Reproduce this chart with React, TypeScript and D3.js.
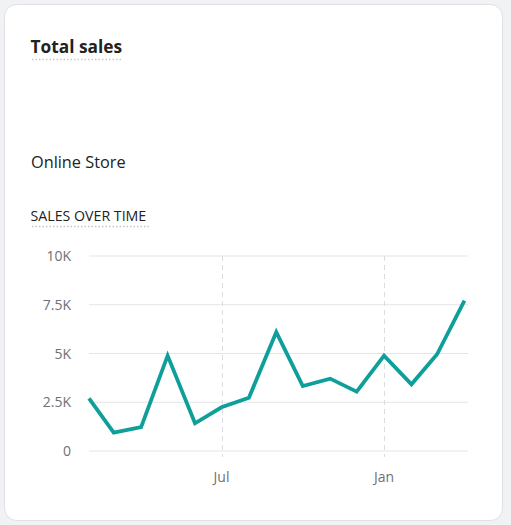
import * as d3 from "d3";
import React, { useEffect, useRef } from 'react'

// monthly sales, Feb 2023 .. Apr 2024
const months = [
  "2023-02-01", "2023-03-01", "2023-04-01", "2023-05-01", "2023-06-01",
  "2023-07-01", "2023-08-01", "2023-09-01", "2023-10-01", "2023-11-01",
  "2023-12-01", "2024-01-01", "2024-02-01", "2024-03-01", "2024-04-01"
]
const sales = [2700, 940, 1220, 4890, 1420, 2240, 2730, 6100, 3330, 3710, 3040, 4890, 3420, 4960, 7710]
const yTicks = [0, 2500, 5000, 7500, 10000]
const yTickLabels = ["0", "2.5K", "5K", "7.5K", "10K"]
const xTickDates = ["2023-07-01", "2024-01-01"]
const xTickLabels = ["Jul", "Jan"]

const W = 511
const H = 525
const FONT = "'Open Sans', 'Noto Sans', sans-serif"

const draw = (el: SVGSVGElement) => {
  const svg = d3.select(el)
  svg.selectAll('*').remove()

  const parse = d3.utcParse("%Y-%m-%d")
  const data = months.map((m, i) => [parse(m) as Date, sales[i]] as [Date, number])

  // page + card
  svg.append('rect').attr('width', W).attr('height', H).attr('fill', '#f1f2f4')
  svg.append('rect')
    .attr('x', 4.5).attr('y', 4.5).attr('width', 498).attr('height', 516)
    .attr('rx', 12).attr('fill', '#ffffff')
    .attr('stroke', '#dfe1e4').attr('stroke-width', 1)

  // headings
  svg.append('text').attr('x', 30.5).attr('y', 53)
    .attr('font-family', FONT).attr('font-size', 17.3).attr('font-weight', 700)
    .attr('fill', '#202223').text('Total sales')
  svg.append('line').attr('x1', 32).attr('x2', 123).attr('y1', 59.5).attr('y2', 59.5)
    .attr('stroke', '#c4c6c9').attr('stroke-width', 1.5).attr('stroke-dasharray', '1.5 2')

  svg.append('text').attr('x', 31).attr('y', 168)
    .attr('font-family', FONT).attr('font-size', 16.3)
    .attr('fill', '#202223').text('Online Store')

  svg.append('text').attr('x', 30.5).attr('y', 221)
    .attr('font-family', FONT).attr('font-size', 14.2).attr('font-weight', 500)
    .attr('fill', '#202223').text('SALES OVER TIME')
  svg.append('line').attr('x1', 32).attr('x2', 150).attr('y1', 226.5).attr('y2', 226.5)
    .attr('stroke', '#c4c6c9').attr('stroke-width', 1.5).attr('stroke-dasharray', '1.5 2')

  const xScale = d3.scaleUtc()
    .domain([parse("2023-02-01") as Date, parse("2024-04-05") as Date])
    .range([89, 468])
  const yScale = d3.scaleLinear()
    .domain([0, 10000])
    .range([451, 256])

  // horizontal grid
  svg.append('g').selectAll('line')
    .data(yTicks).enter().append('line')
    .attr('x1', 89).attr('x2', 468)
    .attr('y1', (d) => yScale(d)).attr('y2', (d) => yScale(d))
    .attr('stroke', '#e4e5e7').attr('stroke-width', 1)

  svg.append('g').selectAll('text')
    .data(yTicks).enter().append('text')
    .attr('x', 71).attr('y', (d) => yScale(d) + 5)
    .attr('text-anchor', 'end')
    .attr('font-family', FONT).attr('font-size', 14)
    .attr('fill', '#6d7175')
    .text((d, i) => yTickLabels[i])

  // vertical dashed lines
  const xt = xTickDates.map((d) => parse(d) as Date)
  svg.append('g').selectAll('line')
    .data(xt).enter().append('line')
    .attr('x1', (d) => Math.round(xScale(d)) + 0.5).attr('x2', (d) => Math.round(xScale(d)) + 0.5)
    .attr('y1', 256).attr('y2', 457)
    .attr('stroke', '#dcdde0').attr('stroke-width', 1).attr('stroke-dasharray', '5 4')

  svg.append('g').selectAll('text')
    .data(xt).enter().append('text')
    .attr('x', (d) => xScale(d)).attr('y', 482)
    .attr('text-anchor', 'middle')
    .attr('font-family', FONT).attr('font-size', 14)
    .attr('fill', '#6d7175')
    .text((d, i) => xTickLabels[i])

  const line = d3.line<[Date, number]>()
    .x((d) => xScale(d[0]))
    .y((d) => yScale(d[1]))

  svg.append('path')
    .attr('d', line(data))
    .attr('fill', 'none')
    .attr('stroke', '#0e9f9a')
    .attr('stroke-width', 3.8)
    .attr('stroke-linejoin', 'miter')
}

export default function App() {
  const ref = useRef<SVGSVGElement>(null)
  useEffect(() => {
    if (ref.current) draw(ref.current)
  })
  return (
    <svg ref={ref} width={W} height={H}
      style={{ position: 'absolute', left: 0, top: 0, display: 'block' }} />
  )
}
